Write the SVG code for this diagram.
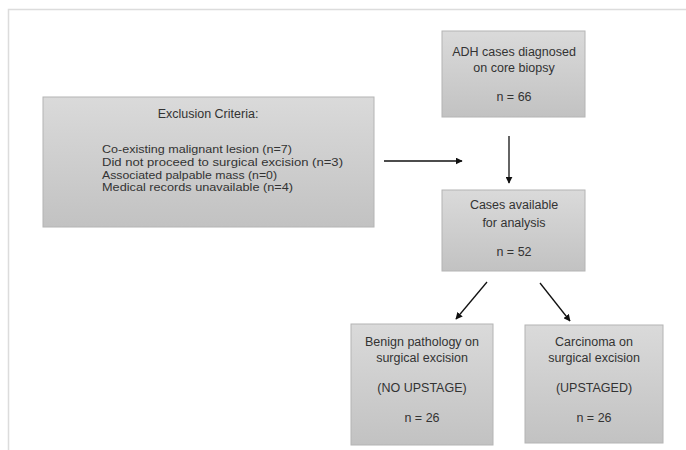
<svg xmlns="http://www.w3.org/2000/svg" width="686" height="450" viewBox="0 0 686 450">
<defs>
<linearGradient id="g" x1="0" y1="0" x2="0" y2="1">
<stop offset="0" stop-color="#dadada"/>
<stop offset="1" stop-color="#c2c2c2"/>
</linearGradient>
<marker id="ah" viewBox="0 0 10 10" refX="9" refY="5" markerWidth="7" markerHeight="7" markerUnits="userSpaceOnUse" orient="auto">
<path d="M0,0 L10,5 L0,10 z" fill="#111"/>
</marker>
</defs>
<style>
.box{fill:url(#g);stroke:#b4b4b4;stroke-width:1}
text{font-family:"Liberation Sans",Arial,sans-serif;font-size:12.5px;fill:#333}
.c{text-anchor:middle}
.s{font-size:11px}
.con{stroke:#111;stroke-width:1.3;fill:none;marker-end:url(#ah)}
</style>
<rect width="686" height="450" fill="#fff"/>
<path d="M8.5,450 V9.5 H686" fill="none" stroke="#dcdcdc" stroke-width="1.5"/>
<g id="exclusion">
<rect class="box" x="43" y="97" width="331" height="130"/>
<text class="c" x="208" y="118">Exclusion Criteria:</text>
<text class="s" x="102" y="153" textLength="190" lengthAdjust="spacingAndGlyphs">Co-existing malignant lesion (n=7)</text>
<text class="s" x="102" y="166" textLength="241" lengthAdjust="spacingAndGlyphs">Did not proceed to surgical excision (n=3)</text>
<text class="s" x="102" y="178.5" textLength="175" lengthAdjust="spacingAndGlyphs">Associated palpable mass (n=0)</text>
<text class="s" x="102" y="191" textLength="191" lengthAdjust="spacingAndGlyphs">Medical records unavailable (n=4)</text>
</g>
<g id="adh">
<rect class="box" x="442" y="31" width="143" height="86"/>
<text class="c" x="514" y="56">ADH cases diagnosed</text>
<text class="c" x="514" y="72">on core biopsy</text>
<text class="c" x="514" y="101">n = 66</text>
</g>
<g id="cases">
<rect class="box" x="442" y="190" width="143" height="81"/>
<text class="c" x="514" y="209">Cases available</text>
<text class="c" x="514" y="227">for analysis</text>
<text class="c" x="514" y="256">n = 52</text>
</g>
<g id="benign">
<rect class="box" x="351" y="324" width="142" height="121"/>
<text class="c" x="422" y="346">Benign pathology on</text>
<text class="c" x="422" y="362">surgical excision</text>
<text class="c" x="422" y="392">(NO UPSTAGE)</text>
<text class="c" x="422" y="422">n = 26</text>
</g>
<g id="carcinoma">
<rect class="box" x="525" y="325" width="138" height="118"/>
<text class="c" x="594" y="346">Carcinoma on</text>
<text class="c" x="594" y="362">surgical excision</text>
<text class="c" x="594" y="392">(UPSTAGED)</text>
<text class="c" x="594" y="422">n = 26</text>
</g>
<g id="connectors">
<line class="con" x1="384" y1="161" x2="462" y2="161"/>
<line class="con" x1="509" y1="136" x2="509" y2="183"/>
<line class="con" x1="487" y1="282" x2="456" y2="319"/>
<line class="con" x1="540" y1="283" x2="570" y2="321"/>
</g>
</svg>
